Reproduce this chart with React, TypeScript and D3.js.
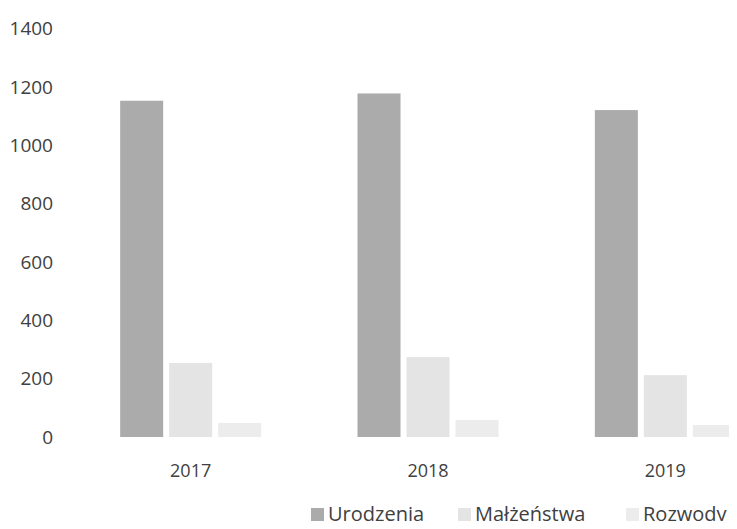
import { useEffect, useRef } from 'react';
import * as d3 from 'd3';

const years = ['2017', '2018', '2019'];
const seriesNames = ['Urodzenia', 'Małżeństwa', 'Rozwody'];
const urodzenia = [1153, 1178, 1121];
const malzenstwa = [254, 274, 212];
const rozwody = [48, 58, 41];
const yTicks = [0, 200, 400, 600, 800, 1000, 1200, 1400];

const seriesValues = [urodzenia, malzenstwa, rozwody];
const colors = ['#ababab', '#e4e4e4', '#ececec'];

const App = () => {
  const svgRef = useRef<SVGSVGElement | null>(null);

  useEffect(() => {
    const width = 737;
    const height = 529;

    const svg = d3.select(svgRef.current);
    svg.selectAll('*').remove();
    svg.attr('width', width).attr('height', height);

    const font = '"Open Sans", "Liberation Sans", sans-serif';

    const y = d3.scaleLinear().domain([0, 1400]).range([437, 28.7]);

    // group bands (the scan cuts off the right side)
    const x0 = d3.scaleBand<string>().domain(years).range([72, 784]).padding(0);
    const x1 = d3.scaleBand<string>()
      .domain(seriesNames)
      .range([0, 141])
      .paddingInner(0.122)
      .paddingOuter(0);
    const groupOffset = (x0.bandwidth() - 141) / 2;

    // y tick labels
    svg.append('g')
      .selectAll('text')
      .data(yTicks)
      .enter()
      .append('text')
      .attr('x', 53)
      .attr('y', d => y(d))
      .attr('dy', '0.35em')
      .attr('text-anchor', 'end')
      .style('font-family', font)
      .style('font-size', '19px')
      .style('fill', '#404040')
      .text(d => d);

    // bars
    const groups = svg.append('g')
      .selectAll('g')
      .data(years)
      .enter()
      .append('g')
      .attr('transform', d => `translate(${(x0(d) ?? 0) + groupOffset}, 0)`);

    groups.selectAll('rect')
      .data((_, i) => seriesNames.map((name, s) => ({ name, value: seriesValues[s][i], s })))
      .enter()
      .append('rect')
      .attr('x', d => x1(d.name) ?? 0)
      .attr('y', d => y(d.value))
      .attr('width', x1.bandwidth())
      .attr('height', d => y(0) - y(d.value))
      .attr('fill', d => colors[d.s]);

    // x labels
    svg.append('g')
      .selectAll('text')
      .data(years)
      .enter()
      .append('text')
      .attr('x', d => (x0(d) ?? 0) + x0.bandwidth() / 2)
      .attr('y', 477)
      .attr('text-anchor', 'middle')
      .style('font-family', font)
      .style('font-size', '18px')
      .style('fill', '#404040')
      .text(d => d);

    // legend
    const legendX = [311, 458, 626];
    const legend = svg.append('g');
    seriesNames.forEach((name, i) => {
      const item = legend.append('g').attr('transform', `translate(${legendX[i]}, 0)`);
      item.append('rect')
        .attr('x', 0)
        .attr('y', 508)
        .attr('width', 13)
        .attr('height', 13)
        .attr('fill', colors[i]);
      item.append('text')
        .attr('x', 17)
        .attr('y', 521)
        .style('font-family', font)
        .style('font-size', '20px')
        .style('fill', '#404040')
        .text(name);
    });
  }, []);

  return (
    <div style={{ margin: -8, width: 737, height: 529, overflow: 'hidden', background: '#fff' }}>
      <svg ref={svgRef} style={{ display: 'block' }}></svg>
    </div>
  );
};

export default App;
